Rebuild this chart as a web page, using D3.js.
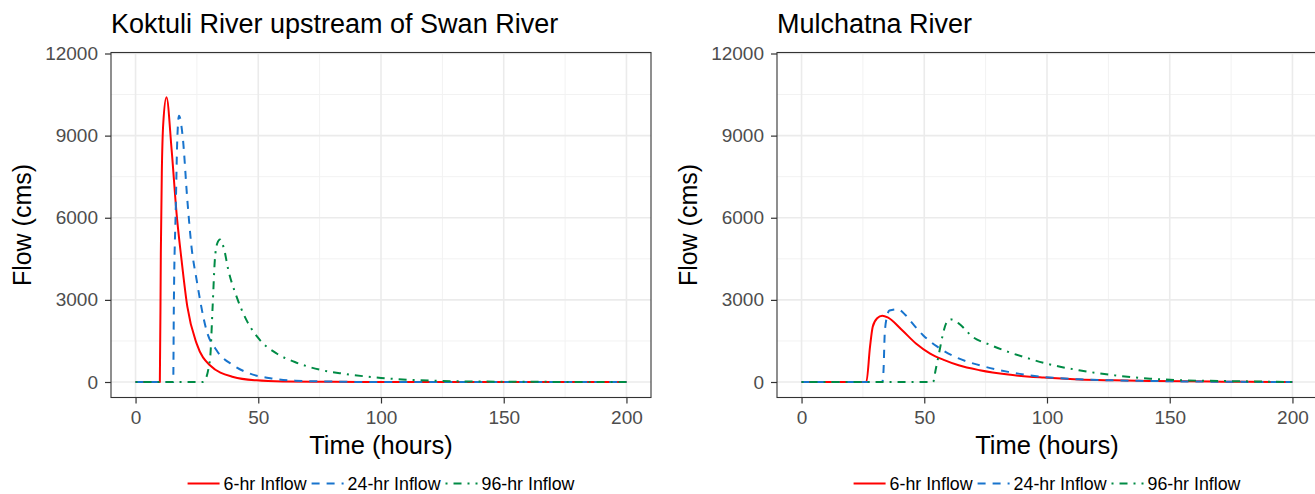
<!DOCTYPE html>
<html>
<head>
<meta charset="utf-8">
<script src="https://cdn.jsdelivr.net/npm/d3@7"></script>
<style>
  html, body { margin: 0; padding: 0; background: #fff; }
  svg { display: block; font-family: "Liberation Sans", Arial, sans-serif; }
</style>
</head>
<body>
<svg id="chart" width="1315" height="494"></svg>
<script>
// ---------- data ----------
const panelTitles = ["Koktuli River upstream of Swan River", "Mulchatna River"];
const seriesNames = ["6-hr Inflow", "24-hr Inflow", "96-hr Inflow"];
const xTicks = [0, 50, 100, 150, 200];
const xMinor = [25, 75, 125, 175];
const yTicks = [0, 3000, 6000, 9000, 12000];
const yMinor = [1500, 4500, 7500, 10500];

// Koktuli River upstream of Swan River: [time (hours), flow (cms)]
const koktuli6hr = [[0,0],[9.9,0],[10.3,4700],[10.7,7630],[11.3,9460],[12.6,10400],[14.7,8480],[16.7,6170],
  [18.75,4450],[21.1,2750],[24.9,1400],[30.3,610],[39.8,185],[49.3,60],[60,20],[80,5],[100,0],[200,0]];
const koktuli24hr = [[0,0],[15.35,0],[15.6,2750],[16.4,6400],[17.0,8850],[17.7,9730],[19.2,8970],[21.1,6650],
  [22.8,4940],[24.9,3720],[28.9,1890],[33,1160],[39.8,610],[46.6,305],[56.1,122],[65,50],[80,15],[100,0],[200,0]];
const koktuli96hr = [[0,0],[27.6,0],[30.3,790],[31.4,2750],[32.3,4450],[33.3,5070],[34.4,5210],[36,4880],
  [37.8,4090],[41.2,3110],[45.2,2260],[50.7,1530],[57.5,1040],[64.9,730],[75,450],[85,300],[100,150],
  [120,50],[150,10],[200,0]];

// Mulchatna River: [time (hours), flow (cms)]
const mulchatna6hr = [[0,0],[26.4,0],[27.9,1290],[29,2020],[30.8,2330],[32.9,2420],[35.1,2360],[40.9,1900],
  [46.6,1410],[52.4,1040],[58.2,800],[64,610],[72.6,430],[84.2,270],[98.6,160],[113,90],[127.5,60],
  [142,37],[156,24],[171,12],[200,0]];
const mulchatna24hr = [[0,0],[32.9,0],[33.4,430],[33.9,1780],[34.8,2390],[35.8,2610],[39.1,2660],[42.3,2450],
  [45.2,2140],[49.5,1710],[55.3,1290],[64,860],[72.6,610],[84.2,370],[98.6,185],[113,98],[127.5,60],
  [142,37],[170,10],[200,0]];
const mulchatna96hr = [[0,0],[53.6,0],[54.6,430],[56,1040],[57.5,1710],[58.9,2140],[60.6,2290],[64,2140],
  [69.7,1650],[77,1350],[84.2,1100],[91.4,890],[98.6,700],[105.8,550],[113,430],[127.5,245],[142,122],
  [156,61],[171,37],[200,0]];

const panelData = [
  [koktuli6hr, koktuli24hr, koktuli96hr],
  [mulchatna6hr, mulchatna24hr, mulchatna96hr]
];

// ---------- styles ----------
const colors = ["#FF0000", "#1874CD", "#008B45"];
const dashes = [null, "8,7", "2,6,8,6"];
const lineW = 2;

const svg = d3.select("#chart");
const panelLeft = [111, 777];
const panelW = 540;
const panelTop = 52.5, panelBottom = 397.5;

function drawPanel(i) {
  const x0 = panelLeft[i], x1 = x0 + panelW;
  const x = d3.scaleLinear().domain([-10, 210]).range([x0, x1]);
  const y = d3.scaleLinear().domain([0, 12000]).range([382, 53.5]);
  const g = svg.append("g");

  g.append("rect").attr("x", x0).attr("y", panelTop).attr("width", panelW)
    .attr("height", panelBottom - panelTop).attr("fill", "#fff");

  // grid
  const grid = g.append("g");
  grid.selectAll(".xmin").data(xMinor).enter().append("line")
    .attr("x1", d => x(d)).attr("x2", d => x(d)).attr("y1", panelTop).attr("y2", panelBottom)
    .attr("stroke", "#F2F2F2").attr("stroke-width", 1);
  grid.selectAll(".ymin").data(yMinor).enter().append("line")
    .attr("x1", x0).attr("x2", x1).attr("y1", d => y(d)).attr("y2", d => y(d))
    .attr("stroke", "#F2F2F2").attr("stroke-width", 1);
  grid.selectAll(".xmaj").data(xTicks).enter().append("line")
    .attr("x1", d => x(d)).attr("x2", d => x(d)).attr("y1", panelTop).attr("y2", panelBottom)
    .attr("stroke", "#EBEBEB").attr("stroke-width", 1.6);
  grid.selectAll(".ymaj").data(yTicks).enter().append("line")
    .attr("x1", x0).attr("x2", x1).attr("y1", d => y(d)).attr("y2", d => y(d))
    .attr("stroke", "#EBEBEB").attr("stroke-width", 1.6);

  // lines
  const clipId = "clip" + i;
  svg.append("defs").append("clipPath").attr("id", clipId).append("rect")
    .attr("x", x0).attr("y", panelTop).attr("width", panelW).attr("height", panelBottom - panelTop);
  const lineGen = d3.line().x(d => x(d[0])).y(d => y(d[1])).curve(d3.curveMonotoneX);
  const lg = g.append("g").attr("clip-path", `url(#${clipId})`);
  panelData[i].forEach((s, k) => {
    lg.append("path").datum(s).attr("d", lineGen)
      .attr("fill", "none").attr("stroke", colors[k]).attr("stroke-width", lineW)
      .attr("stroke-dasharray", dashes[k]).attr("stroke-linejoin", "round");
  });

  // border
  g.append("rect").attr("x", x0).attr("y", panelTop).attr("width", panelW)
    .attr("height", panelBottom - panelTop).attr("fill", "none")
    .attr("stroke", "#333333").attr("stroke-width", 1.1);

  // axes
  const xAxis = d3.axisBottom(x).tickValues(xTicks).tickSize(6).tickPadding(7).tickFormat(d3.format("d"));
  const yAxis = d3.axisLeft(y).tickValues(yTicks).tickSize(6).tickPadding(7).tickFormat(d3.format("d"));
  const gx = g.append("g").attr("transform", `translate(0,${panelBottom})`).call(xAxis);
  const gy = g.append("g").attr("transform", `translate(${x0},0)`).call(yAxis);
  [gx, gy].forEach(a => {
    a.select(".domain").remove();
    a.selectAll(".tick line").attr("stroke", "#333333").attr("stroke-width", 1.2);
    a.selectAll(".tick text").attr("fill", "#4D4D4D").attr("font-size", "19px")
      .attr("font-family", "Liberation Sans, Arial, sans-serif");
  });

  // titles
  g.append("text").attr("x", x0).attr("y", 33).attr("font-size", "27px").attr("fill", "#000")
    .text(panelTitles[i]);
  g.append("text").attr("x", (x0 + x1) / 2).attr("y", 454).attr("text-anchor", "middle")
    .attr("font-size", "25.5px").attr("fill", "#000").text("Time (hours)");
  g.append("text").attr("transform", `translate(${x0 - 80},${(panelTop + panelBottom) / 2}) rotate(-90)`)
    .attr("text-anchor", "middle").attr("font-size", "25px").attr("fill", "#000").text("Flow (cms)");

  // legend
  const leg = g.append("g");
  let cx = 0;
  const keyW = 32, gapText = 4, gapItem = 5;
  seriesNames.forEach((name, k) => {
    leg.append("line").attr("x1", cx).attr("x2", cx + keyW).attr("y1", 483.5).attr("y2", 483.5)
      .attr("stroke", colors[k]).attr("stroke-width", lineW).attr("stroke-dasharray", dashes[k]);
    const t = leg.append("text").attr("x", cx + keyW + gapText).attr("y", 490)
      .attr("font-size", "17.8px").attr("fill", "#000").text(name);
    cx += keyW + gapText + t.node().getComputedTextLength() + gapItem;
  });
  const total = cx - gapItem;
  leg.attr("transform", `translate(${(x0 + x1) / 2 - total / 2},0)`);
}

drawPanel(0);
drawPanel(1);
</script>
</body>
</html>
